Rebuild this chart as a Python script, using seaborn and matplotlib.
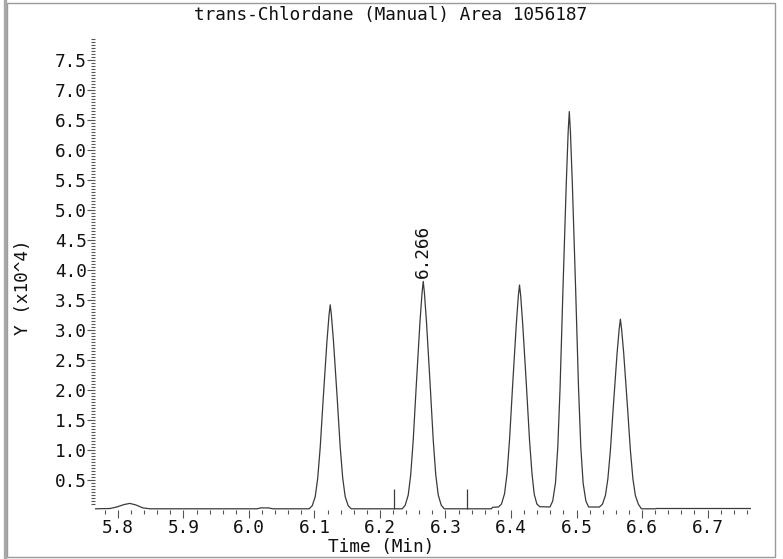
import numpy as np
import pandas as pd
import matplotlib
matplotlib.use("Agg")
import matplotlib.pyplot as plt
import seaborn as sns
from matplotlib.patches import Rectangle
from matplotlib.lines import Line2D
from matplotlib.ticker import FixedLocator, FormatStrFormatter

# ---------------- data ----------------
title_text = "trans-Chlordane (Manual) Area 1056187"
x_label = "Time (Min)"
y_label = "Y (x10^4)"
peak_label = "6.266"
peak_label_time = 6.266
peak_label_height = 3.81

# baseline + small bumps before the first peak
lead_t = [5.7649, 5.788, 5.798, 5.809, 5.818, 5.827, 5.838, 5.849, 6.012, 6.018, 6.030, 6.036]
lead_y = [0.02, 0.025, 0.05, 0.09, 0.11, 0.085, 0.035, 0.02, 0.02, 0.035, 0.035, 0.02]

peak1_t = [6.0919, 6.0965, 6.1011, 6.1049, 6.1087, 6.1135, 6.1190, 6.1222, 6.1240,
           6.1258, 6.1290, 6.1345, 6.1393, 6.1431, 6.1469, 6.1515, 6.1561]
peak1_y = [0.02, 0.07, 0.22, 0.53, 1.04, 1.89, 2.81, 3.25, 3.42,
           3.25, 2.81, 1.89, 1.04, 0.53, 0.22, 0.07, 0.02]

peak2_t = [6.2339, 6.2385, 6.2431, 6.2469, 6.2507, 6.2555, 6.2610, 6.2642, 6.2660,
           6.2678, 6.2710, 6.2765, 6.2813, 6.2851, 6.2889, 6.2935, 6.2981]
peak2_y = [0.02, 0.08, 0.25, 0.59, 1.16, 2.10, 3.13, 3.62, 3.81,
           3.62, 3.13, 2.10, 1.16, 0.59, 0.25, 0.08, 0.02]

gap_t = [6.300, 6.370, 6.372]
gap_y = [0.02, 0.02, 0.045]

peak3_t = [6.3809, 6.3855, 6.3901, 6.3939, 6.3977, 6.4025, 6.4080, 6.4112, 6.4130,
           6.4148, 6.4180, 6.4235, 6.4283, 6.4321, 6.4355, 6.4395, 6.4440]
peak3_y = [0.05, 0.10, 0.27, 0.60, 1.16, 2.08, 3.08, 3.57, 3.75,
           3.57, 3.08, 2.08, 1.16, 0.60, 0.26, 0.10, 0.055]

peak4_t = [6.4595, 6.4637, 6.4679, 6.4714, 6.4749, 6.4793, 6.4844, 6.4873, 6.4890,
           6.4907, 6.4936, 6.4987, 6.5031, 6.5066, 6.5101, 6.5143, 6.5185]
peak4_y = [0.05, 0.15, 0.45, 1.04, 2.03, 3.67, 5.45, 6.31, 6.64,
           6.31, 5.45, 3.67, 2.03, 1.04, 0.45, 0.15, 0.05]

peak5_t = [6.5349, 6.5395, 6.5441, 6.5479, 6.5517, 6.5565, 6.5620, 6.5652, 6.5670,
           6.5688, 6.5720, 6.5775, 6.5823, 6.5861, 6.5899, 6.5945, 6.5991]
peak5_y = [0.05, 0.095, 0.24, 0.52, 0.99, 1.77, 2.62, 3.02, 3.18,
           3.02, 2.62, 1.77, 0.99, 0.52, 0.24, 0.095, 0.02]

tail_t = [6.620, 6.622, 6.7664]
tail_y = [0.02, 0.025, 0.025]

# integration markers
marker_t = [6.221, 6.333]
marker_bottom = [0.02, 0.02]
marker_top = [0.345, 0.345]

# axis ticks
xtick_values = [5.8, 5.9, 6.0, 6.1, 6.2, 6.3, 6.4, 6.5, 6.6, 6.7]
ytick_values = [0.5, 1.0, 1.5, 2.0, 2.5, 3.0, 3.5, 4.0, 4.5, 5.0, 5.5, 6.0, 6.5, 7.0, 7.5]

# ---------------- build table ----------------
trace = pd.DataFrame({
    "time": lead_t + peak1_t + peak2_t + gap_t + peak3_t + peak4_t + peak5_t + tail_t,
    "intensity": lead_y + peak1_y + peak2_y + gap_y + peak3_y + peak4_y + peak5_y + tail_y,
})

# ---------------- plot ----------------
sns.set_theme(style="white")
plt.rcParams["font.family"] = ["DejaVu Sans Mono", "DejaVu Sans"]

W, H = 783, 559
fig = plt.figure(figsize=(W / 100, H / 100), dpi=100)
fig.patch.set_facecolor("white")
ax = fig.add_axes([95 / W, 49 / H, 656 / W, 474 / H])
ax.set_facecolor("white")

sns.lineplot(data=trace, x="time", y="intensity", sort=False, estimator=None,
             color="#3a3a3a", linewidth=0.9, ax=ax)
ax.vlines(marker_t, marker_bottom, marker_top, color="#3a3a3a", linewidth=0.9)

ax.set_xlim(5.7649, 6.7664)
ax.set_ylim(0, 7.9)

for s in ax.spines.values():
    s.set_visible(False)

fs = 12.8
ax.xaxis.set_major_locator(FixedLocator(xtick_values))
ax.xaxis.set_minor_locator(FixedLocator(list(np.arange(5.78, 6.765, 0.02))))
ax.yaxis.set_major_locator(FixedLocator(ytick_values))
ax.yaxis.set_minor_locator(FixedLocator(list(np.arange(0.1, 7.88, 0.05))))
ax.xaxis.set_major_formatter(FormatStrFormatter("%.1f"))
ax.yaxis.set_major_formatter(FormatStrFormatter("%.1f"))
ax.tick_params(axis="x", which="major", direction="out", length=5.5, width=0.8,
               color="#555555", pad=1.0, labelsize=fs, labelcolor="#111111", bottom=True)
ax.tick_params(axis="x", which="minor", direction="out", length=2.6, width=0.8,
               color="#555555", bottom=True)
ax.tick_params(axis="y", which="major", direction="out", length=5.5, width=0.8,
               color="#555555", pad=0.3, labelsize=fs, labelcolor="#111111", left=True)
ax.tick_params(axis="y", which="minor", direction="out", length=3.0, width=0.8,
               color="#555555", left=True)

ax.set_xlabel(x_label, fontsize=fs, color="#111111")
ax.xaxis.set_label_coords((381 - 95) / 656, -0.060)
ax.set_ylabel(y_label, fontsize=fs, color="#111111")
ax.yaxis.set_label_coords(-0.096, 0.47)
ax.set_title(title_text, fontsize=fs, color="#111111", x=(391 - 95) / 656, y=1.034, pad=0)

ax.text(peak_label_time, peak_label_height + 0.06, peak_label, rotation=90,
        ha="center", va="bottom", fontsize=fs, color="#111111")

# figure frame
fig.add_artist(Rectangle((7.5 / W, 2.5 / H), (775 - 7.5) / W, (556.5 - 2.5) / H,
                         transform=fig.transFigure, fill=False,
                         edgecolor="#9a9a9a", linewidth=1.0))
fig.add_artist(Line2D([5 / W, 5 / W], [0, 1], transform=fig.transFigure,
                      color="#a8a8a8", linewidth=2.4))

fig.savefig("out.png", dpi=100, facecolor="white")
